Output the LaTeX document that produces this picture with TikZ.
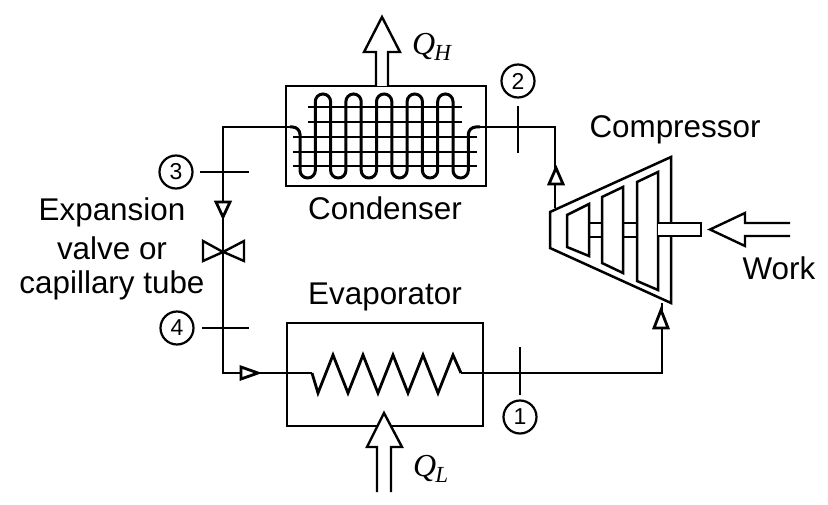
\documentclass[tikz,border=0pt]{standalone}
\usepackage{fontspec}
\setmainfont{Liberation Sans}
\newfontfamily\qfont{Liberation Serif}
\newcommand{\subfont}{\fontsize{23}{23}\selectfont\qfont\itshape}
\tikzset{
  pipe/.style={line width=2.7pt,line join=miter},
  vessel/.style={draw,line width=2.7pt,inner sep=0pt,fill=white},
  tick/.style={line width=2.2pt},
  hollow/.style={draw,line width=2.4pt,fill=white,line join=miter},
  flowhead/.style={draw,line width=2.8pt,fill=white,line join=miter},
  state/.style={circle,draw,line width=2.2pt,minimum size=33pt,inner sep=0pt,font=\fontsize{23}{23}\selectfont},
  lbl/.style={inner sep=0pt,font=\fontsize{31.4}{31.4}\selectfont,align=center},
  qlbl/.style={inner sep=0pt,anchor=west,font=\fontsize{32}{32}\selectfont\qfont\itshape},
  compline/.style={line width=2.5pt,line join=miter},
}
\begin{document}
\begin{tikzpicture}[x=1pt,y=-1pt]
\useasboundingbox[fill=white] (0,0) rectangle (828,505);

% vessels
\node[vessel,minimum width=200pt,minimum height=100pt] (cond) at (386,136) {};
\node[vessel,minimum width=196pt,minimum height=103pt] (evap) at (385,374.5) {};

% named points on the circuit
\coordinate (TL) at (223,127);
\coordinate (BL) at (223,373);
\coordinate (TR) at (555,127);
\coordinate (BR) at (662,373);
\coordinate (compIn) at (662,303);
\coordinate (compOut) at (555,208);
\coordinate (coilL) at (290,127);
\coordinate (coilR) at (480,127);
\coordinate (zigL) at (312,373);
\coordinate (zigR) at (461,373);
\node[inner sep=0pt,minimum size=0pt] (valve) at (223,252) {};

% circuit
\draw[pipe] (compOut) -- (TR) -- (coilR);
\draw[pipe] (coilL) -- (TL) -- (valve) -- (BL) -- (zigL);
\draw[pipe] (zigR) -- (BR) -- (compIn);

% condenser coil
\draw[line width=3pt,rounded corners=7.6pt]
  (coilL) -- (300,127) -- (300,178) -- (315.3,178) -- (315.3,94) -- (330.6,94)
  -- (330.6,178) -- (345.9,178) -- (345.9,94) -- (361.2,94) -- (361.2,178)
  -- (376.5,178) -- (376.5,94) -- (391.8,94) -- (391.8,178) -- (407.1,178)
  -- (407.1,94) -- (422.4,94) -- (422.4,178) -- (437.7,178) -- (437.7,94)
  -- (453,94) -- (453,178) -- (468.3,178) -- (468.3,127) -- (coilR);
\foreach \y in {107,122}
  \draw[line width=2.4pt] (308,\y) -- (462,\y);
\foreach \y in {137,152,166}
  \draw[line width=2.4pt] (293,\y) -- (477,\y);

% evaporator coil
\draw[line width=2.8pt,line join=miter] (zigL) -- (318,393) -- (333,355) -- (348,393) -- (363,355)
  -- (378,393) -- (393,355) -- (408,393) -- (423,355) -- (438,393) -- (453,355) -- (zigR);

% compressor
\draw[compline,fill=white] (550,212) -- (671,157) -- (671,303) -- (550,248) -- cycle;
\draw[compline] (567,215) -- (589,204) -- (589,256) -- (567,247) -- cycle;
\draw[compline] (602,197) -- (623,187) -- (623,273) -- (602,263) -- cycle;
\draw[compline] (637,182) -- (658,172) -- (658,290) -- (637,281) -- cycle;
\draw[compline] (589,223) -- (602,223) (589,237) -- (602,237);
\draw[compline] (623,223) -- (637,223) (623,237) -- (637,237);
\draw[compline,fill=white] (658,223) -- (701,223) -- (701,236) -- (658,236);

% heat and work arrows
\draw[hollow] (376,86) -- (376,52) -- (364,52) -- (382,17) -- (400,52) -- (388,52) -- (388,86);
\draw[hollow] (377,492) -- (377,447) -- (367,447) -- (384,413) -- (402,447) -- (391,447) -- (391,492);
\draw[hollow] (790,223) -- (745,223) -- (745,213) -- (710,229.5) -- (745,246) -- (745,236) -- (790,236);

% flow arrowheads
\draw[flowhead] (556,168) -- (563,184) -- (549,184) -- cycle;
\draw[flowhead] (661,310) -- (668,328) -- (654,328) -- cycle;
\draw[flowhead] (223,217) -- (216,202) -- (230,202) -- cycle;
\draw[flowhead] (258,373) -- (241,367) -- (241,379) -- cycle;

% valve
\draw[line width=2.4pt,line join=miter] (valve) -- (203,241) -- (203,261) -- (valve) -- (244,241) -- (244,261) -- cycle;

% state ticks
\coordinate (t1a) at (520,347); \coordinate (t1b) at (520,395);
\coordinate (t2a) at (518,106); \coordinate (t2b) at (518,153);
\coordinate (t3a) at (200,172); \coordinate (t3b) at (249,172);
\coordinate (t4a) at (202,328); \coordinate (t4b) at (249,328);
\draw[tick] (t1a) -- (t1b);
\draw[tick] (t2a) -- (t2b);
\draw[tick] (t3a) -- (t3b);
\draw[tick] (t4a) -- (t4b);

% state circles
\node[state] (s1) at (520,417) {1};
\node[state] (s2) at (518,81) {2};
\node[state] (s3) at (176,172) {3};
\node[state] (s4) at (177,328) {4};

% labels
\node[lbl] (lcond) at (385,208) {Condenser};
\node[lbl] (levap) at (385,297) {Evaporator};
\node[lbl] (lcomp) at (675,130) {Compressor};
\node[lbl] (lwork) at (779,268) {Work};
\node[lbl] (lexp1) at (112,212) {Expansion};
\node[lbl] (lexp2) at (112,248) {valve or};
\node[lbl] (lexp3) at (112,285) {capillary tube};
\node[qlbl] (qh) at (412,47) {Q\kern-1pt\raisebox{-6pt}{\subfont H}};
\node[qlbl] (ql) at (413,469) {Q\kern-1pt\raisebox{-6pt}{\subfont L}};
\end{tikzpicture}
\end{document}
